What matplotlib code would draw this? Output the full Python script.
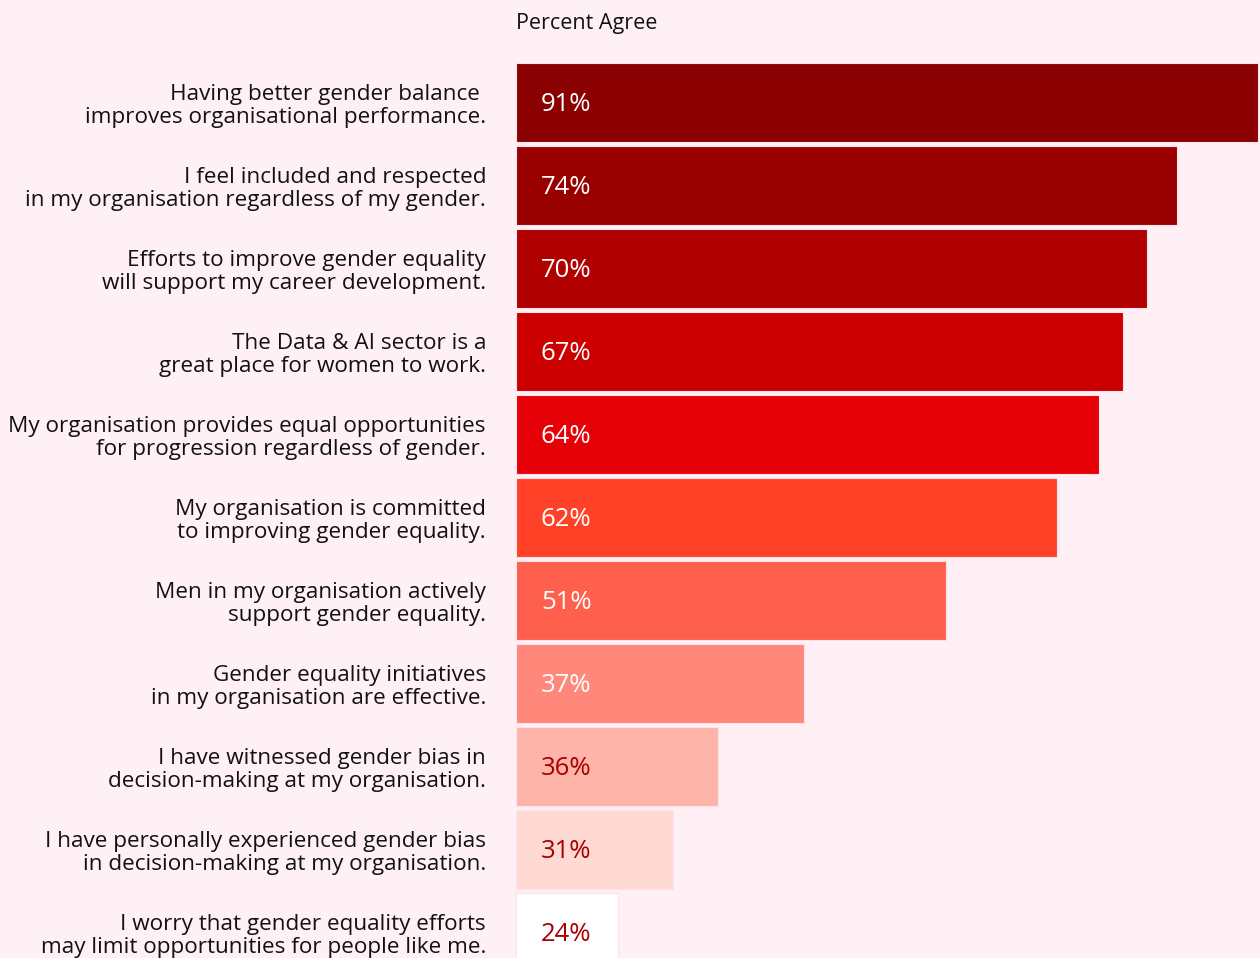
import matplotlib
matplotlib.use("Agg")
import matplotlib.pyplot as plt

plt.rcParams["font.family"] = ["Open Sans", "DejaVu Sans"]

# statements, top to bottom
statements = [
    "Having better gender balance \nimproves organisational performance.",
    "I feel included and respected\nin my organisation regardless of my gender.",
    "Efforts to improve gender equality\nwill support my career development.",
    "The Data & AI sector is a\ngreat place for women to work.",
    "My organisation provides equal opportunities\nfor progression regardless of gender.",
    "My organisation is committed\nto improving gender equality.",
    "Men in my organisation actively\nsupport gender equality.",
    "Gender equality initiatives\nin my organisation are effective.",
    "I have witnessed gender bias in\ndecision-making at my organisation.",
    "I have personally experienced gender bias\nin decision-making at my organisation.",
    "I worry that gender equality efforts\nmay limit opportunities for people like me.",
]
percent_agree = [91, 74, 70, 67, 64, 62, 51, 37, 36, 31, 24]
# drawn bar length (not proportional to the percentage in the original)
bar_length = [742, 661, 631, 607, 583, 541, 430, 288, 202, 157, 102]
bar_colors = ["#8b0000", "#990000", "#b00000", "#cc0000", "#e60008", "#ff4128",
              "#ff604d", "#ff887a", "#ffb4a9", "#ffdad5", "#ffffff"]
label_colors = ["white"] * 8 + ["#a80000"] * 3

bg = "#fff0f6"
W, H = 1260, 958
fig = plt.figure(figsize=(W / 100, H / 100), dpi=100, facecolor=bg)
ax = fig.add_axes([516 / W, 0, 1 - 516 / W, 1])
ax.set_facecolor(bg)

pitch = 83.0
first_center = 102.5
y = list(range(len(statements)))
ax.barh(y, bar_length, height=0.95, color=bar_colors,
        edgecolor="#ffe2e8", linewidth=0.8)
ax.set_xlim(0, 744)
ax.set_ylim((H - first_center) / pitch, -first_center / pitch)

for i, (txt, pct, lc) in enumerate(zip(statements, percent_agree, label_colors)):
    ax.text(25, i + 2 / pitch, f"{pct}%", color=lc, fontsize=18.5,
            va="center", ha="left")
    ax.text(-30, i + 3.5 / pitch, txt, color="#111111", fontsize=16.2,
            va="center", ha="right", linespacing=1.16, clip_on=False)

ax.text(0, -first_center / pitch + 23 / pitch, "Percent Agree", fontsize=15.5,
        color="#111111", va="center", ha="left")

ax.axis("off")
fig.savefig("out.png", dpi=100, facecolor=bg)
